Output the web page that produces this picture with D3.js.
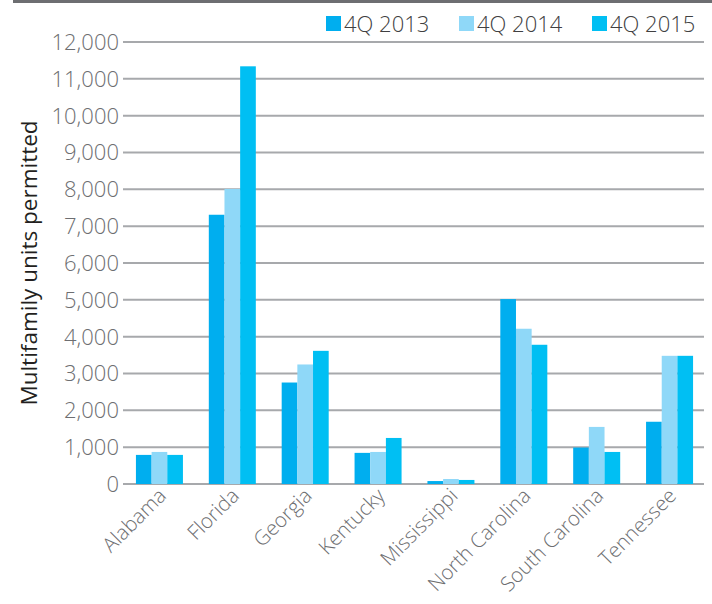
<!DOCTYPE html>
<html lang="en">
<head>
<meta charset="UTF-8">
<title>Multifamily units permitted</title>
<script src="https://d3js.org/d3.v7.min.js"></script>
<style>
  body { margin: 0; background: #fff; }
  svg { display: block; font-family: "Open Sans", Roboto, sans-serif; }
  .tick-label { font-size: 22px; font-weight: 300; fill: #6d6e71; }
  .x-label { font-size: 20.5px; font-weight: 300; fill: #6d6e71; }
  .legend text { font-size: 22px; font-weight: 300; fill: #404041; }
  .grid line { stroke: #a7a9ac; stroke-width: 2px; }
</style>
</head>
<body>
<svg width="712" height="604"></svg>
<script>
// data
const states = ["Alabama", "Florida", "Georgia", "Kentucky", "Mississippi",
                "North Carolina", "South Carolina", "Tennessee"];
const seriesNames = ["4Q 2013", "4Q 2014", "4Q 2015"];
const q2013 = [790, 7310, 2755, 845, 80, 5020, 990, 1690];
const q2014 = [870, 8010, 3245, 870, 135, 4215, 1550, 3480];
const q2015 = [790, 11340, 3615, 1250, 110, 3780, 870, 3480];
const yTicks = [0, 1000, 2000, 3000, 4000, 5000, 6000, 7000, 8000, 9000, 10000, 11000, 12000];
const colors = ["#00aeef", "#8fd8f8", "#00bff3"];

const series = [q2013, q2014, q2015];

const svg = d3.select("svg");

// top rule
svg.append("rect").attr("x", 13).attr("y", 0).attr("width", 699).attr("height", 3).attr("fill", "#6d6e71");

const x0 = d3.scaleBand().domain(states).range([123, 706]).paddingInner(0.355).paddingOuter(0.1775);
const x1 = d3.scaleBand().domain(seriesNames).range([0, x0.bandwidth()]);
const y = d3.scaleLinear().domain([0, 12000]).range([484, 42]);

// gridlines
const grid = svg.append("g").attr("class", "grid");
grid.selectAll("line").data(yTicks).enter().append("line")
  .attr("x1", 123).attr("x2", 704)
  .attr("y1", d => y(d)).attr("y2", d => y(d));

// y labels
const fmt = d3.format(",");
svg.append("g").selectAll("text").data(yTicks).enter().append("text")
  .attr("class", "tick-label")
  .attr("x", 119).attr("y", d => y(d)).attr("dy", "0.36em")
  .attr("text-anchor", "end")
  .text(d => fmt(d));

// y title
svg.append("text")
  .attr("transform", "translate(37,263) rotate(-90)")
  .attr("text-anchor", "middle")
  .style("font-size", "22.5px").style("fill", "#231f20")
  .text("Multifamily units permitted");

// bars
const groups = svg.append("g").selectAll("g").data(states).enter().append("g")
  .attr("transform", d => `translate(${x0(d)},0)`);
groups.selectAll("rect").data((d, i) => series.map((s, j) => ({ key: seriesNames[j], v: s[i], c: colors[j] })))
  .enter().append("rect")
  .attr("x", d => x1(d.key)).attr("width", x1.bandwidth())
  .attr("y", d => y(d.v)).attr("height", d => y(0) - y(d.v))
  .attr("fill", d => d.c);

// x labels
svg.append("g").selectAll("text").data(states).enter().append("text")
  .attr("class", "x-label")
  .attr("text-anchor", "end")
  .attr("transform", d => `translate(${x0(d) + x0.bandwidth() / 2 + 8},${497}) rotate(-45)`)
  .text(d => d);

// legend
const legendX = [326, 459, 592];
const legend = svg.append("g").attr("class", "legend");
const li = legend.selectAll("g").data(seriesNames).enter().append("g")
  .attr("transform", (d, i) => `translate(${legendX[i]},16)`);
li.append("rect").attr("width", 15).attr("height", 15).attr("fill", (d, i) => colors[i]);
li.append("text").attr("x", 18).attr("y", 15.5).text(d => d);
</script>
</body>
</html>
